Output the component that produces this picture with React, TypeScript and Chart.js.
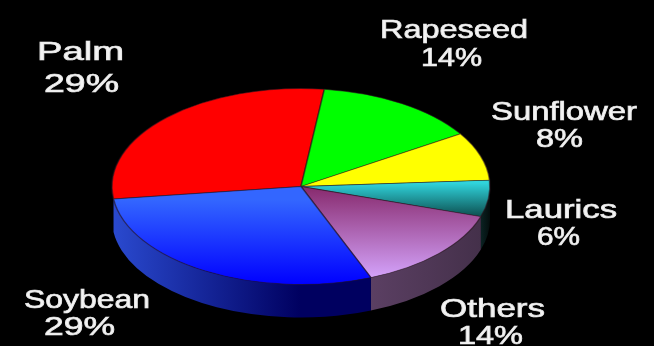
import React, { useEffect, useRef } from "react";
import { Chart, registerables } from "chart.js";

Chart.register(...registerables);

const categories = ["Palm", "Rapeseed", "Sunflower", "Laurics", "Others", "Soybean"];
const shares = [29, 14, 8, 6, 14, 29];

const WIDTH = 654;
const HEIGHT = 346;

// Tilted disc: where the top face sits and how thick the rim is.
const DISC = { cx: 301, cy: 186.5, rx: 189, ry: 98, depth: 33 };

// Text extents per category: [left, right, baseline] for the name, then for the percentage.
const LABEL_BOXES = [
  [[37, 124, 60], [44, 119, 92]],
  [[380, 528, 38], [421, 482, 66]],
  [[491, 637, 120], [536, 583, 147]],
  [[505, 617, 218], [537, 580, 245]],
  [[440, 545, 317], [458, 523, 344]],
  [[24, 150, 308], [44, 115, 335]],
];

// Device-space y ranges and stops for the shaded top faces.
const FACE_SHADES = [
  { y0: 0, y1: 1, stops: ["#ff0000", "#ff0000"] },
  { y0: 0, y1: 1, stops: ["#00ff00", "#00ff00"] },
  { y0: 0, y1: 1, stops: ["#ffff00", "#ffff00"] },
  { y0: 183, y1: 219, stops: ["#30d4dc", "#0a4444"] },
  { y0: 190, y1: 280, stops: ["#8a2e72", "#d6a6ff"] },
  { y0: 200, y1: 284, stops: ["#3366ff", "#0000ff"] },
];

// Horizontal shading of the rim, left to right in device space.
const RIM_SHADES = [
  null,
  null,
  null,
  { x0: 470, x1: 492, stops: ["#123c3c", "#020808"] },
  { x0: 365, x1: 482, stops: ["#5c4064", "#44304a"] },
  { x0: 112, x1: 300, stops: ["#2a4ad0", "#000060"] },
];

const deviceToChartY = (chart: Chart, y: number) => {
  const r = Math.min(chart.width, chart.height) / 2;
  return chart.height / 2 + ((y - DISC.cy) / DISC.ry) * r;
};

const tiltPlugin = {
  id: "tiltedDisc",
  beforeDatasetsDraw(chart: Chart) {
    const { ctx } = chart;
    const arcs = chart.getDatasetMeta(0).data as any[];

    // Rim, only where a slice faces the viewer. Arc angles keep growing past
    // a full turn, so bring each slice back to a start within (-PI, PI].
    arcs.forEach((arc, i) => {
      const shade = RIM_SHADES[i];
      if (!shade) return;
      const turn = Math.round(arc.startAngle / (2 * Math.PI)) * 2 * Math.PI;
      const a0 = Math.max(arc.startAngle - turn, 0);
      const a1 = Math.min(arc.endAngle - turn, Math.PI);
      if (a1 <= a0) return;
      const g = ctx.createLinearGradient(shade.x0, 0, shade.x1, 0);
      g.addColorStop(0, shade.stops[0]);
      g.addColorStop(1, shade.stops[1]);
      ctx.save();
      ctx.beginPath();
      ctx.ellipse(DISC.cx, DISC.cy, DISC.rx, DISC.ry, 0, a0, a1);
      ctx.ellipse(DISC.cx, DISC.cy + DISC.depth, DISC.rx, DISC.ry, 0, a1, a0, true);
      ctx.closePath();
      ctx.fillStyle = g;
      ctx.fill();
      ctx.restore();
    });

    // Squash the chart's own arcs into the ellipse of the top face.
    const first = arcs[0];
    const r = first.outerRadius;
    ctx.save();
    ctx.translate(DISC.cx, DISC.cy);
    ctx.scale(DISC.rx / r, DISC.ry / r);
    ctx.translate(-first.x, -first.y);
  },
  afterDatasetsDraw(chart: Chart) {
    chart.ctx.restore();
  },
  afterDraw(chart: Chart) {
    const { ctx } = chart;
    const drawFitted = (text: string, [left, right, baseline]: number[]) => {
      ctx.save();
      ctx.font = "25px 'Liberation Sans'";
      ctx.textAlign = "left";
      ctx.textBaseline = "alphabetic";
      ctx.fillStyle = "#f4f4f4";
      ctx.strokeStyle = "#e8e8e8";
      ctx.lineWidth = 0.7;
      const stretch = (right - left) / ctx.measureText(text).width;
      ctx.translate(left, baseline);
      ctx.scale(stretch, 1);
      ctx.fillText(text, 0, 0);
      ctx.strokeText(text, 0, 0);
      ctx.restore();
    };
    categories.forEach((name, i) => {
      drawFitted(name, LABEL_BOXES[i][0]);
      drawFitted(`${shares[i]}%`, LABEL_BOXES[i][1]);
    });
  },
};

export default function App() {
  const canvasRef = useRef<HTMLCanvasElement | null>(null);

  useEffect(() => {
    document.body.style.margin = "0";
    document.body.style.background = "#000";
    const canvas = canvasRef.current;
    if (!canvas) return;
    const chart = new Chart(canvas, {
      type: "pie",
      data: {
        labels: categories,
        datasets: [
          {
            data: shares,
            borderWidth: 1.5,
            borderColor: "rgba(40,20,30,0.55)",
            backgroundColor: (c: any) => {
              const shade = FACE_SHADES[c.dataIndex];
              if (!shade) return "#000";
              const g = c.chart.ctx.createLinearGradient(
                0,
                deviceToChartY(c.chart, shade.y0),
                0,
                deviceToChartY(c.chart, shade.y1)
              );
              g.addColorStop(0, shade.stops[0]);
              g.addColorStop(1, shade.stops[1]);
              return g;
            },
          },
        ],
      },
      options: {
        responsive: false,
        animation: false,
        rotation: 262.7,
        layout: { padding: 0 },
        plugins: { legend: { display: false }, tooltip: { enabled: false } },
      },
      plugins: [tiltPlugin],
    } as any);
    return () => chart.destroy();
  }, []);

  return (
    <div style={{ width: WIDTH, height: HEIGHT, background: "#000" }}>
      <canvas ref={canvasRef} width={WIDTH} height={HEIGHT} style={{ display: "block" }} />
    </div>
  );
}
